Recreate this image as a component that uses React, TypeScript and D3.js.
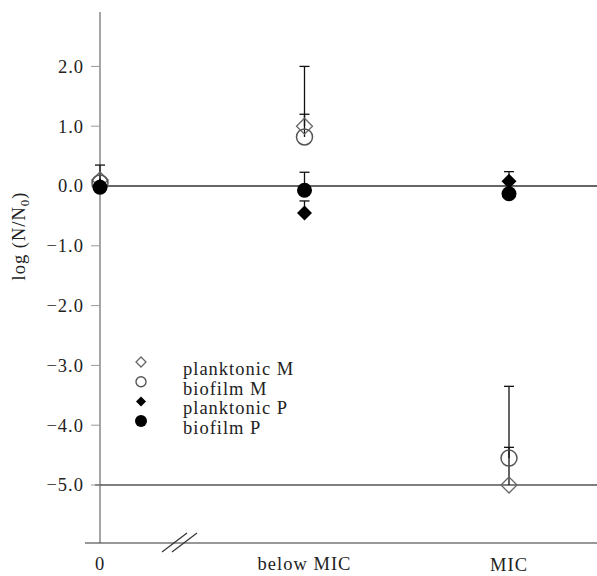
import React from "react";
import * as d3 from "d3";

const categories = ["0", "below MIC", "MIC"];
const yTicks = [2, 1, 0, -1, -2, -3, -4, -5];

const planktonicM = [0.1, 1.0, -5.0];
const planktonicMErr = [0.25, 1.0, 1.65];
const biofilmM = [0.05, 0.82, -4.55];
const biofilmMErr = [0, 0.38, 0.18];
const planktonicP = [0.0, -0.45, 0.08];
const planktonicPErr = [0, 0.2, 0.16];
const biofilmP = [-0.02, -0.07, -0.13];
const biofilmPErr = [0, 0.3, 0];

const legendLabels = ["planktonic M", "biofilm M", "planktonic P", "biofilm P"];

const W = 597;
const H = 576;
const font = "'Liberation Serif', 'DejaVu Serif', serif";
const fs = 18.5;
const ls = 1.0;

export default function App() {
  const x = d3.scalePoint<string>().domain(categories).range([100, 509]);
  const y = d3.scaleLinear().domain([0, -5]).range([186, 485]);

  const diamond = (cx: number, cy: number, r: number) =>
    `M${cx},${cy - r}L${cx + r},${cy}L${cx},${cy + r}L${cx - r},${cy}Z`;

  const errBar = (cx: number, v: number, e: number, key: string) =>
    e > 0 ? (
      <g key={key} stroke="#111" strokeWidth={1.3}>
        <line x1={cx} x2={cx} y1={y(v)} y2={y(v + e)} />
        <line x1={cx - 5} x2={cx + 5} y1={y(v + e)} y2={y(v + e)} />
      </g>
    ) : null;

  const labelY = [570, 570, 571];

  return (
    <svg
      width={W}
      height={H}
      style={{ position: "absolute", left: 0, top: 0, background: "#fff" }}
    >
      {/* y axis */}
      <line x1={100} x2={100} y1={12} y2={543} stroke="#888" strokeWidth={1.5} />
      {/* x axis */}
      <line x1={85} x2={W} y1={543} y2={543} stroke="#333" strokeWidth={1.2} />
      {/* reference lines */}
      <line x1={100} x2={W} y1={y(0)} y2={y(0)} stroke="#666" strokeWidth={2} />
      <line x1={95} x2={W} y1={y(-5)} y2={y(-5)} stroke="#555" strokeWidth={1.4} />

      {yTicks.map((t) => (
        <g key={t}>
          <line x1={91} x2={100} y1={y(t)} y2={y(t)} stroke="#999" strokeWidth={1} />
          <text
            x={84}
            y={y(t)}
            dy="0.35em"
            textAnchor="end"
            fontFamily={font}
            fontSize={fs}
            letterSpacing={ls}
            fill="#222"
          >
            {t < 0 ? "\u2212" + Math.abs(t).toFixed(1) : t.toFixed(1)}
          </text>
        </g>
      ))}

      {/* break marks */}
      <line x1={162} x2={187} y1={552} y2={533} stroke="#333" strokeWidth={1.2} />
      <line x1={172} x2={197} y1={552} y2={533} stroke="#333" strokeWidth={1.2} />

      {categories.map((c, i) => (
        <text
          key={c}
          x={x(c)}
          y={labelY[i]}
          textAnchor="middle"
          fontFamily={font}
          fontSize={fs}
          letterSpacing={ls}
          fill="#222"
        >
          {c}
        </text>
      ))}

      <text
        transform="translate(25,236) rotate(-90)"
        textAnchor="middle"
        fontFamily={font}
        fontSize={fs}
        letterSpacing={ls}
        fill="#222"
      >
        log (N/N
        <tspan fontSize={13} dy={4}>0</tspan>
        <tspan dy={-4}>)</tspan>
      </text>

      {/* error bars */}
      {categories.map((c, i) => (
        <g key={"e" + c}>
          {errBar(x(c)!, planktonicM[i], planktonicMErr[i], "a")}
          {errBar(x(c)!, biofilmM[i], biofilmMErr[i], "b")}
          {errBar(x(c)!, planktonicP[i], planktonicPErr[i], "c")}
          {errBar(x(c)!, biofilmP[i], biofilmPErr[i], "d")}
        </g>
      ))}

      {/* markers */}
      {categories.map((c, i) => (
        <g key={"m" + c}>
          <path d={diamond(x(c)!, y(planktonicM[i]), 8)} fill="none" stroke="#666" strokeWidth={1.3} />
          <circle cx={x(c)!} cy={y(biofilmM[i])} r={8} fill="none" stroke="#555" strokeWidth={1.5} />
          <path d={diamond(x(c)!, y(planktonicP[i]), 7.5)} fill="#000" />
          <circle cx={x(c)!} cy={y(biofilmP[i])} r={7.5} fill="#000" />
        </g>
      ))}

      {/* legend */}
      {legendLabels.map((l, i) => {
        const cy = 362 + i * 19.7;
        const lx = 141;
        let marker;
        if (i === 0) marker = <path d={diamond(lx, cy, 5)} fill="none" stroke="#666" strokeWidth={1.3} />;
        else if (i === 1) marker = <circle cx={lx} cy={cy} r={5} fill="none" stroke="#555" strokeWidth={1.4} />;
        else if (i === 2) marker = <path d={diamond(lx, cy, 5)} fill="#000" />;
        else marker = <circle cx={lx} cy={cy} r={6} fill="#000" />;
        return (
          <g key={l}>
            {marker}
            <text x={183} y={cy + 13} fontFamily={font} fontSize={fs} letterSpacing={ls} fill="#222">
              {l}
            </text>
          </g>
        );
      })}
    </svg>
  );
}
